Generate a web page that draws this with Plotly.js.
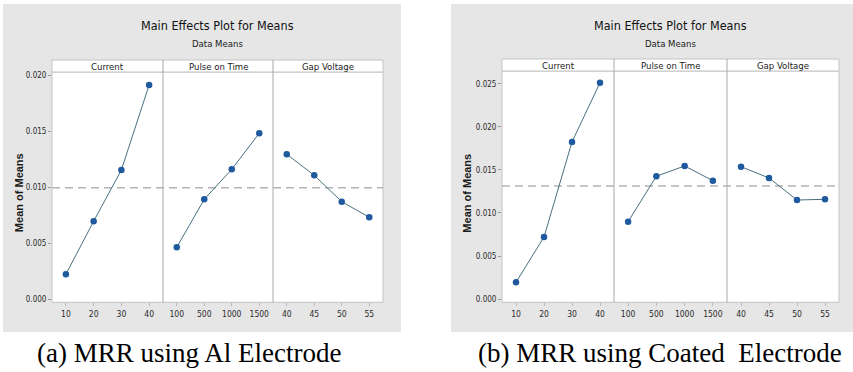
<!DOCTYPE html>
<html>
<head>
<meta charset="utf-8">
<script src="https://cdn.plot.ly/plotly-3.0.1.min.js"></script>
<style>html,body{margin:0;padding:0;background:#fff;}#chart{width:853px;height:372px;}</style>
</head>
<body>
<div id="chart"></div>
<script>
// ---- data ----
var factors = ["Current", "Pulse on Time", "Gap Voltage"];
var currentLevels = ["10", "20", "30", "40"];
var pulseLevels = ["100", "500", "1000", "1500"];
var gapLevels = ["40", "45", "50", "55"];

// (a) Al electrode
var alCurrent = [0.00221, 0.00695, 0.01154, 0.01914];
var alPulse = [0.00462, 0.00892, 0.01160, 0.01482];
var alGap = [0.01294, 0.01106, 0.00870, 0.00731];

// (b) Coated electrode
var coCurrent = [0.00194, 0.00721, 0.01826, 0.02515];
var coPulse = [0.00899, 0.01427, 0.01547, 0.01376];
var coGap = [0.01538, 0.01407, 0.01151, 0.01159];

var yTicksA = [0.000, 0.005, 0.010, 0.015, 0.020];
var yTicksB = [0.000, 0.005, 0.010, 0.015, 0.020, 0.025];

var chartTitle = "Main Effects Plot for Means";
var chartSubtitle = "Data Means";
var yLabel = "Mean of Means";
var captionA = "(a) MRR using Al Electrode";
var captionB = "(b) MRR using Coated\u00a0 Electrode";

// ---- layout helpers ----
var W = 853, H = 372;
function px(x) { return x / W; }
function py(y) { return 1 - y / H; }
function mean(a) { return a.reduce(function (s, v) { return s + v; }, 0) / a.length; }

var FONT = "'Liberation Sans Narrow', 'DejaVu Sans Condensed', 'Roboto Condensed', Arial, sans-serif";
var TXT = "#2b2b2b";
var markerColor = "#1f5a9e";
var lineColor = "#4a6f80";

var panels = [
  { xs: [52, 163, 273, 383], yTop: 72, yBot: 302.3, stripTop: 60, bg: [3, 4, 401, 332],
    data: [alCurrent, alPulse, alGap], ticks: yTicksA, range: [-0.000295, 0.0203],
    axes: ["x", "x2", "x3"], yax: "y", title: chartTitle, caption: captionA, yLabX: 19 },
  { xs: [502, 614, 727, 839], yTop: 71, yBot: 302.3, stripTop: 59, bg: [451, 4, 853, 332],
    data: [coCurrent, coPulse, coGap], ticks: yTicksB, range: [-0.000384, 0.02651],
    axes: ["x4", "x5", "x6"], yax: "y2", title: chartTitle, caption: captionB, yLabX: 467 }
];
var levels = [currentLevels, pulseLevels, gapLevels];

var traces = [];
var shapes = [];
var annotations = [];
var layout = {
  width: W, height: H,
  margin: { l: 0, r: 0, t: 0, b: 0 },
  paper_bgcolor: "#ffffff",
  plot_bgcolor: "rgba(0,0,0,0)",
  showlegend: false,
  font: { family: FONT, color: TXT, size: 9 }
};

panels.forEach(function (p, pi) {
  // gray background
  shapes.push({ type: "rect", xref: "paper", yref: "paper", layer: "below",
    x0: px(p.bg[0]), x1: px(p.bg[2]), y0: py(p.bg[3]), y1: py(p.bg[1]),
    fillcolor: "#e6e6e6", line: { width: 0 } });
  // white plot area
  shapes.push({ type: "rect", xref: "paper", yref: "paper", layer: "below",
    x0: px(p.xs[0]), x1: px(p.xs[3]), y0: py(p.yBot), y1: py(p.yTop),
    fillcolor: "#ffffff", line: { color: "#c4c4c4", width: 1 } });
  // strip header
  shapes.push({ type: "rect", xref: "paper", yref: "paper", layer: "below",
    x0: px(p.xs[0]), x1: px(p.xs[3]), y0: py(p.yTop), y1: py(p.stripTop),
    fillcolor: "#ffffff", line: { color: "#c4c4c4", width: 1 } });
  // dividers
  [1, 2].forEach(function (k) {
    shapes.push({ type: "line", xref: "paper", yref: "paper", layer: "above",
      x0: px(p.xs[k]), x1: px(p.xs[k]), y0: py(p.yBot), y1: py(p.stripTop),
      line: { color: "#a8a8a8", width: 1 } });
  });
  // grand mean reference line
  var grand = mean(p.data[0]);
  shapes.push({ type: "line", xref: "paper", yref: p.yax, layer: "below",
    x0: px(p.xs[0]), x1: px(p.xs[3]), y0: grand, y1: grand,
    line: { color: "#b4b4b4", width: 1.5, dash: "8px,5px" } });

  // axes
  var yName = p.yax === "y" ? "yaxis" : "yaxis2";
  layout[yName] = {
    domain: [py(p.yBot), py(p.yTop)],
    anchor: p.axes[0],
    range: p.range,
    tickvals: p.ticks,
    ticktext: p.ticks.map(function (v) { return v.toFixed(3); }),
    ticks: "outside", ticklen: 3, tickcolor: "#999", tickwidth: 1,
    showgrid: false, zeroline: false, showline: false,
    tickfont: { family: FONT, size: 8, color: TXT },
    fixedrange: true
  };
  p.axes.forEach(function (ax, k) {
    var name = "xaxis" + (ax === "x" ? "" : ax.slice(1));
    layout[name] = {
      type: "category",
      domain: [px(p.xs[k]), px(p.xs[k + 1])],
      anchor: p.yax,
      range: [-0.5, 3.5],
      categoryorder: "array", categoryarray: levels[k],
      ticks: "outside", ticklen: 3, tickcolor: "#bbb", tickwidth: 1,
      showgrid: false, zeroline: false, showline: false,
      tickfont: { family: FONT, size: 8.5, color: TXT },
      fixedrange: true
    };
    traces.push({
      type: "scatter", mode: "lines+markers",
      x: levels[k], y: p.data[k],
      xaxis: ax, yaxis: p.yax,
      line: { color: lineColor, width: 1 },
      marker: { color: markerColor, size: 6.5 },
      hoverinfo: "skip"
    });
    // strip label
    annotations.push({ xref: "paper", yref: "paper", showarrow: false,
      x: px((p.xs[k] + p.xs[k + 1]) / 2), y: py((p.stripTop + p.yTop) / 2),
      xanchor: "center", yanchor: "middle", text: factors[k],
      font: { family: FONT, size: 9.5, color: "#1a1a1a" } });
  });

  var cx = (p.xs[0] + p.xs[3]) / 2;
  annotations.push({ xref: "paper", yref: "paper", showarrow: false,
    x: px(cx), y: py(26), xanchor: "center", yanchor: "middle",
    text: p.title, font: { family: FONT, size: 12.5, color: "#111" } });
  annotations.push({ xref: "paper", yref: "paper", showarrow: false,
    x: px(cx), y: py(43), xanchor: "center", yanchor: "middle",
    text: chartSubtitle, font: { family: FONT, size: 9.5, color: "#1a1a1a" } });
  annotations.push({ xref: "paper", yref: "paper", showarrow: false,
    x: px(p.yLabX), y: py((p.yTop + p.yBot) / 2 + 6), xanchor: "center", yanchor: "middle",
    textangle: -90, text: "<b>" + yLabel + "</b>",
    font: { family: "'Liberation Sans', Arial, sans-serif", size: 11, color: "#1a1a1a" } });
});

annotations.push({ xref: "paper", yref: "paper", showarrow: false,
  x: px(189), y: py(353), xanchor: "center", yanchor: "middle",
  text: captionA, font: { family: "'Liberation Serif', 'Times New Roman', serif", size: 27, color: "#000" } });
annotations.push({ xref: "paper", yref: "paper", showarrow: false,
  x: px(659.5), y: py(353), xanchor: "center", yanchor: "middle",
  text: captionB, font: { family: "'Liberation Serif', 'Times New Roman', serif", size: 27, color: "#000" } });

layout.shapes = shapes;
layout.annotations = annotations;

Plotly.newPlot("chart", traces, layout, { displayModeBar: false, staticPlot: true });
</script>
</body>
</html>
